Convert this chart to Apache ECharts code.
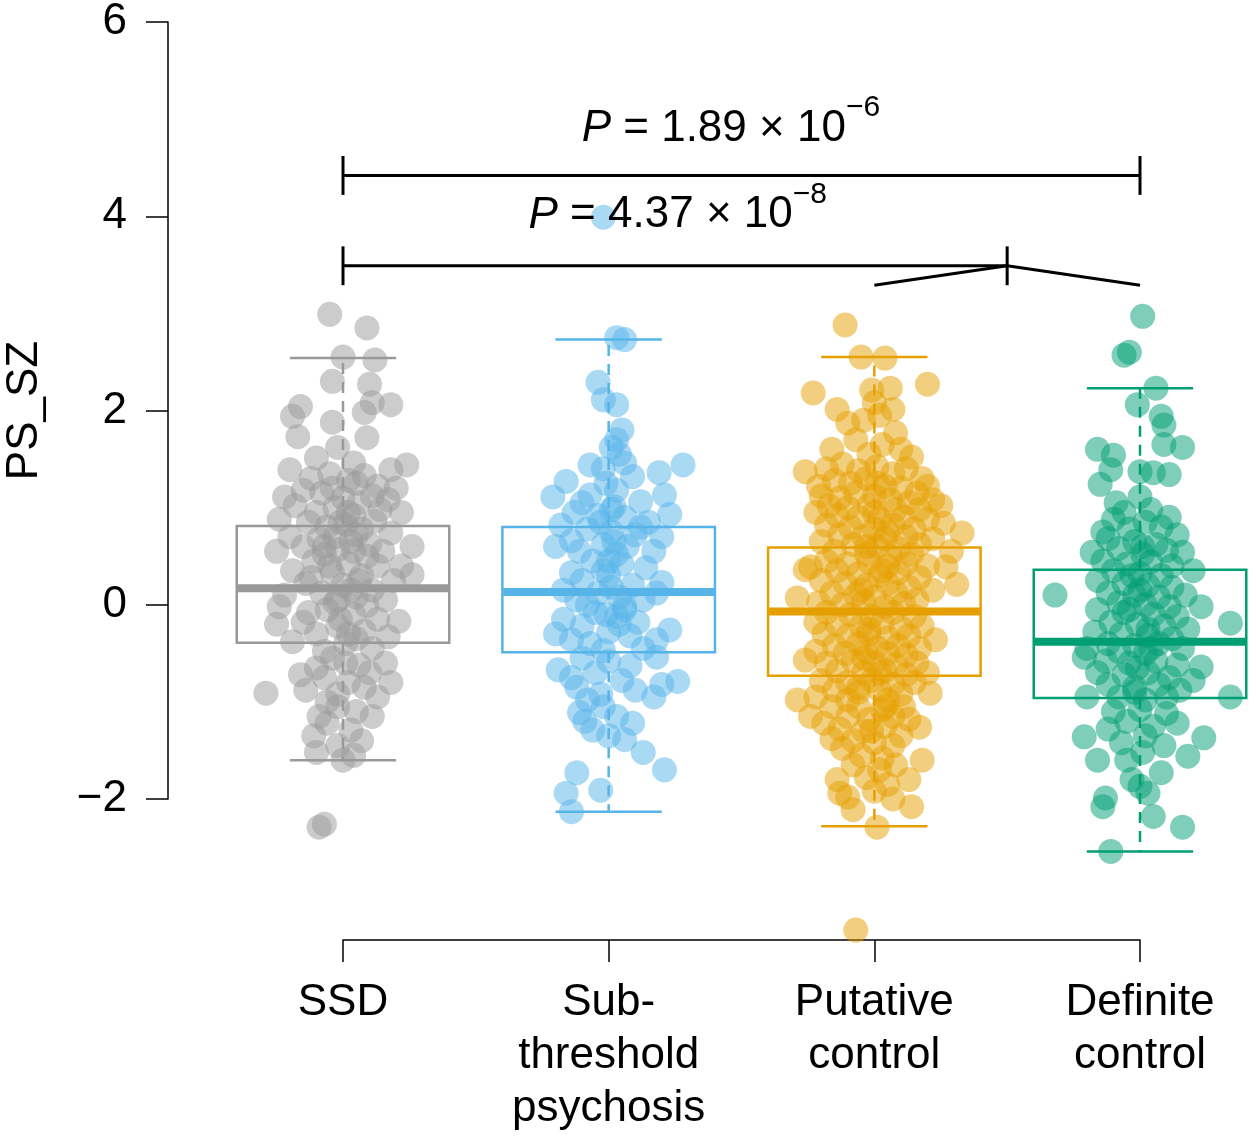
<!DOCTYPE html>
<html><head><meta charset="utf-8">
<script src="https://cdn.jsdelivr.net/npm/echarts@6/dist/echarts.min.js"></script>
<style>html,body{margin:0;padding:0;background:#fff}#c{width:1256px;height:1142px}</style>
</head><body><div id="c"></div>
<script>
// ---------- data ----------
const categories = ['SSD', 'Sub-\nthreshold\npsychosis', 'Putative\ncontrol', 'Definite\ncontrol'];
const yTicks = [-2, 0, 2, 4, 6];
const yName = 'PS_SZ';
// box stats: [lower whisker, Q1, median, Q3, upper whisker]
const boxSSD = [-1.60, -0.39, 0.17, 0.81, 2.54];
const boxSub = [-2.13, -0.49, 0.13, 0.80, 2.73];
const boxPut = [-2.28, -0.73, -0.07, 0.59, 2.55];
const boxDef = [-2.54, -0.96, -0.38, 0.36, 2.23];
// points: [horizontal jitter (category units), PS_SZ]
const ptsSSD = [[-0.05,2.99],[0.09,2.85],[0,2.55],[0.12,2.52],[-0.04,2.30],[0.10,2.27],[-0.16,2.04],[-0.19,1.94],[0.18,2.06],[0.11,2.08],[0.08,1.98],[-0.04,1.88],[-0.17,1.73],[0.09,1.72],[-0.02,1.62],[-0.10,1.51],[-0.20,1.39],[0.24,1.44],[0.18,1.39],[0.04,1.46],
[-0.22,1.11],[0.17,1.08],[-0.12,1.30],[-0.05,1.35],[0.02,1.28],[0.08,1.33],[0.13,1.22],[-0.15,1.18],[-0.08,1.15],[0.00,1.10],[0.06,1.05],[0.11,1.12],[0.20,1.20],[-0.18,1.02],[-0.03,1.00],[0.14,0.98],[-0.10,0.95],[0.04,0.92],[0.22,0.95],[-0.24,0.88],
[-0.13,0.85],[-0.06,0.80],[0.01,0.83],[0.07,0.78],[0.12,0.86],[0.18,0.74],[-0.20,0.70],[-0.09,0.68],[0.03,0.65],[0.10,0.62],[-0.15,0.60],[-0.02,0.57],[0.05,0.72],[0.15,0.55],[-0.25,0.55],[0.26,0.60],[-0.07,0.52],[0.09,0.50],
[0.26,0.31],[-0.11,0.45],[0.02,0.42],[0.13,0.40],[-0.19,0.35],[-0.04,0.33],[0.07,0.30],[0.19,0.25],[-0.14,0.22],[0.00,0.20],[0.11,0.15],[-0.08,0.12],[0.05,0.08],[-0.22,0.10],[0.16,0.05],[-0.03,0.02],[0.09,-0.01],[-0.24,-0.02],[-0.12,0.28],[0.22,0.40],
[-0.25,-0.20],[0.21,-0.17],[-0.06,-0.05],[0.04,-0.10],[0.13,-0.15],[-0.15,-0.18],[-0.02,-0.22],[0.08,-0.27],[-0.10,-0.30],[0.17,-0.33],[-0.19,-0.38],[0.01,-0.40],[0.11,-0.45],[-0.07,-0.48],[0.05,-0.35],[-0.13,-0.08],
[0.16,-0.60],[-0.14,-0.88],[-0.29,-0.91],[0.13,-0.95],[-0.04,-0.55],[0.06,-0.62],[-0.10,-0.65],[0.10,-0.70],[-0.07,-0.75],[0.02,-0.80],[-0.16,-0.72],[0.08,-0.85],[-0.02,-0.92],[0.18,-0.80],
[0.11,-1.15],[-0.09,-1.15],[-0.02,-1.05],[0.05,-1.10],[-0.06,-1.22],[0.03,-1.29],[-0.11,-1.35],[0.07,-1.40],[-0.10,-1.52],[-0.02,-1.45],[0.00,-1.60],[0.04,-1.55],[-0.09,-2.29],[-0.07,-2.26],
[-0.03,0.70],[0.02,0.95],[-0.05,0.40],[0.03,0.15],[-0.01,-0.15],[0.01,-0.60],[-0.04,1.20],[0.04,0.55],[-0.02,0.05],[0.02,-0.30],[-0.06,-1.00],[0.05,1.25],[-0.01,0.85],[0.06,0.25],[-0.07,0.60]];
const ptsSub = [[0.06,2.73],[0.03,2.75],[-0.04,2.29],[-0.02,2.11],[0.03,2.06],[0.05,1.80],[0.03,1.70],[0.01,1.62],[-0.07,1.44],[0.06,1.46],[0.28,1.44],[0.19,1.36],[0.09,1.32],[-0.16,1.27],[-0.21,1.11],[-0.07,1.13],[0.21,1.13],[0.12,1.06],[0.23,0.93],[0.02,1.01],[-0.02,3.99],[0.04,1.55],[-0.01,1.25],[0.03,1.18],[-0.10,1.05],
[-0.13,0.95],[-0.04,0.92],[0.06,0.90],[0.15,0.85],[-0.18,0.82],[-0.08,0.78],[0.01,0.75],[0.10,0.72],[0.20,0.70],[-0.14,0.66],[-0.02,0.62],[0.07,0.60],[0.17,0.55],[-0.11,0.55],[0.03,0.52],[-0.20,0.60],[0.12,0.80],
[-0.14,0.33],[0.20,0.23],[-0.06,0.45],[0.05,0.42],[0.14,0.38],[-0.10,0.25],[0.00,0.30],[0.09,0.20],[-0.17,0.15],[-0.04,0.12],[0.04,0.08],[0.13,0.05],[-0.08,0.00],[0.01,0.18],[0.18,0.12],[-0.12,0.05],[0.06,-0.02],
[0.23,-0.26],[0.18,-0.36],[-0.17,-0.15],[-0.14,-0.36],[-0.05,-0.08],[0.03,-0.12],[0.11,-0.18],[-0.10,-0.22],[0.00,-0.28],[0.08,-0.32],[-0.07,-0.40],[0.13,-0.45],[-0.02,-0.47],[-0.20,-0.30],[0.06,-0.05],
[0.18,-0.54],[-0.19,-0.67],[-0.14,-0.75],[0.26,-0.79],[0.20,-0.82],[0.17,-0.95],[-0.10,-0.55],[0.00,-0.58],[0.08,-0.63],[-0.05,-0.70],[0.05,-0.78],[-0.12,-0.85],[0.10,-0.88],[-0.03,-0.92],[-0.08,-0.98],
[-0.11,-1.11],[-0.06,-1.29],[0.09,-1.22],[0.06,-1.39],[0.13,-1.52],[0.21,-1.70],[-0.12,-1.73],[-0.16,-1.94],[-0.14,-2.13],[-0.03,-1.91],[-0.02,-1.05],[0.03,-1.15],[-0.09,-1.20],[0.00,-1.35],
[-0.02,0.35],[0.02,0.65],[-0.01,-0.10],[0.01,0.98],[0.00,0.45],[-0.03,0.85],[0.04,-0.20],[-0.02,1.40]];
const ptsPut = [[-0.11,2.88],[-0.05,2.55],[0.04,2.54],[-0.23,2.18],[0.20,2.27],[-0.01,2.21],[0.06,2.23],[-0.14,2.01],[-0.10,1.87],[0.07,2.01],[0.00,2.08],[0.08,1.77],[-0.16,1.60],[0.14,1.52],[-0.26,1.37],[-0.21,1.22],[0.22,1.08],[0.33,0.74],[-0.24,0.39],[-0.04,1.90],[0.02,1.95],[-0.07,1.70],[0.03,1.65],[0.10,1.60],[-0.02,1.55],
[-0.18,1.40],[-0.12,1.45],[-0.06,1.38],[0.01,1.42],[0.07,1.35],[0.12,1.40],[0.18,1.30],[-0.15,1.28],[-0.09,1.25],[-0.03,1.30],[0.04,1.22],[0.10,1.20],[0.16,1.15],[0.20,1.22],[-0.20,1.12],[-0.13,1.10],[-0.07,1.15],[0.00,1.12],[0.06,1.08],[0.13,1.05],[-0.17,1.02],[-0.10,1.00],[-0.02,1.02],[0.08,0.98],[0.17,0.98],[0.25,1.02],
[-0.22,0.95],[-0.14,0.92],[-0.06,0.90],[0.02,0.88],[0.11,0.90],[0.20,0.88],[0.26,0.84],[-0.18,0.82],[-0.09,0.80],[0.00,0.78],[0.07,0.82],[0.15,0.78],[-0.13,0.72],[-0.04,0.70],[0.04,0.68],[0.12,0.70],[0.22,0.68],[-0.20,0.65],[-0.08,0.62],[0.01,0.60],[0.09,0.58],[0.17,0.62],[-0.15,0.55],[-0.03,0.52],[0.06,0.50],[0.14,0.52],[0.29,0.55],
[-0.26,0.36],[0.31,0.21],[0.27,0.39],[-0.29,0.07],[-0.18,0.45],[-0.10,0.42],[-0.02,0.44],[0.05,0.40],[0.12,0.42],[0.20,0.40],[-0.14,0.35],[-0.06,0.32],[0.02,0.30],[0.09,0.33],[0.17,0.28],[-0.20,0.25],[-0.11,0.22],[-0.03,0.20],[0.05,0.22],[0.13,0.18],[0.22,0.15],[-0.16,0.12],[-0.07,0.10],[0.00,0.08],[0.08,0.12],[0.16,0.05],[-0.21,0.02],[-0.12,0.00],[-0.04,0.03],[0.04,-0.02],[0.11,0.01],
[-0.18,-0.08],[-0.09,-0.10],[-0.01,-0.12],[0.07,-0.08],[0.15,-0.12],[0.23,-0.36],[-0.22,-0.18],[-0.14,-0.20],[-0.05,-0.22],[0.03,-0.18],[0.10,-0.24],[0.18,-0.22],[-0.19,-0.30],[-0.10,-0.32],[-0.02,-0.30],[0.05,-0.34],[0.13,-0.32],[-0.15,-0.42],[-0.06,-0.40],[0.01,-0.44],[0.09,-0.42],[0.17,-0.45],[-0.22,-0.48],[-0.11,-0.50],[-0.03,-0.48],[0.05,-0.50],[0.12,-0.52],
[-0.26,-0.57],[-0.29,-0.98],[0.21,-0.91],[-0.18,-0.60],[-0.08,-0.58],[0.00,-0.60],[0.08,-0.62],[0.16,-0.60],[-0.14,-0.68],[-0.04,-0.70],[0.04,-0.68],[0.12,-0.72],[0.20,-0.70],[-0.20,-0.78],[-0.10,-0.80],[-0.01,-0.78],[0.07,-0.82],[0.15,-0.80],[-0.15,-0.88],[-0.06,-0.90],[0.02,-0.88],[0.10,-0.92],[-0.22,-0.95],[-0.10,-0.98],[0.05,-0.98],
[-0.24,-1.15],[0.17,-1.26],[-0.16,-1.05],[-0.06,-1.05],[0.03,-1.08],[0.11,-1.05],[-0.19,-1.22],[-0.10,-1.15],[-0.02,-1.18],[0.07,-1.15],[0.13,-1.18],[-0.13,-1.28],[-0.04,-1.30],[0.04,-1.25],[0.10,-1.35],[-0.16,-1.38],[-0.08,-1.40],[0.00,-1.42],[0.07,-1.45],[-0.12,-1.48],
[0.18,-1.60],[-0.14,-1.80],[-0.13,-1.94],[0.14,-2.08],[0.13,-1.80],[-0.08,-2.11],[0.01,-2.29],[-0.07,-3.35],[0.07,-2.00],[-0.05,-1.55],[0.03,-1.58],[-0.08,-1.65],[0.02,-1.70],[0.08,-1.65],[-0.03,-1.78],[0.05,-1.85],[-0.10,-1.98],[0.00,-1.92],
[-0.03,0.60],[0.03,0.35],[-0.02,-0.25],[0.02,-0.70],[0.00,0.95],[-0.05,0.15],[0.04,-1.05],[-0.01,-1.30],[0.01,1.25],[-0.04,-0.55],[0.05,0.75],[-0.06,-0.85]];
const ptsDef = [[0.01,2.97],[-0.06,2.57],[-0.04,2.60],[0.06,2.23],[-0.01,2.06],[0.08,1.94],[0.09,1.85],[0.09,1.65],[0.16,1.62],[-0.16,1.60],[-0.10,1.54],[-0.11,1.39],[0.11,1.34],[0.00,1.37],[-0.15,1.24],[0.05,1.36],[0.00,1.11],[-0.09,1.05],[0.11,0.90],[-0.14,0.75],[0.16,0.54],[-0.18,0.54],
[-0.06,0.95],[0.04,0.98],[-0.10,0.88],[0.02,0.85],[0.08,0.80],[-0.04,0.78],[0.14,0.72],[-0.12,0.68],[-0.02,0.65],[0.06,0.62],[-0.08,0.58],[0.10,0.56],[0.01,0.52],
[-0.32,0.10],[0.23,-0.02],[-0.14,0.45],[-0.05,0.42],[0.04,0.44],[0.12,0.40],[0.20,0.35],[-0.10,0.35],[0.00,0.32],[0.08,0.30],[-0.16,0.25],[-0.06,0.22],[0.03,0.20],[0.12,0.18],[-0.12,0.12],[-0.02,0.10],[0.07,0.08],[0.17,0.10],[-0.08,0.02],[0.02,0.00],[0.11,-0.02],
[0.34,-0.19],[-0.16,-0.05],[-0.06,-0.08],[0.05,-0.10],[0.14,-0.12],[-0.11,-0.18],[-0.01,-0.20],[0.09,-0.22],[0.18,-0.25],[-0.17,-0.28],[-0.07,-0.30],[0.03,-0.32],[0.12,-0.35],[-0.12,-0.40],[-0.02,-0.42],[0.07,-0.40],[0.16,-0.45],[-0.20,-0.45],[-0.08,-0.48],[0.02,-0.50],
[-0.21,-0.54],[0.23,-0.64],[0.34,-0.95],[-0.20,-0.95],[-0.13,-0.58],[-0.04,-0.60],[0.06,-0.58],[0.14,-0.62],[-0.16,-0.70],[-0.06,-0.72],[0.03,-0.70],[0.11,-0.75],[0.20,-0.78],[-0.12,-0.82],[-0.02,-0.85],[0.07,-0.82],[0.15,-0.88],[-0.08,-0.95],[0.02,-0.98],[0.10,-0.95],
[-0.21,-1.36],[-0.16,-1.60],[0.24,-1.37],[0.18,-1.56],[-0.13,-1.99],[-0.14,-2.08],[0.05,-2.18],[0.16,-2.29],[-0.11,-2.54],[0.00,-1.87],[0.03,-1.94],[-0.03,-1.80],[0.01,-1.52],[-0.05,-1.60],[0.08,-1.73],[-0.10,-1.10],[0.00,-1.08],[0.10,-1.12],[-0.05,-1.20],[0.05,-1.25],[-0.12,-1.28],[0.14,-1.22],[0.02,-1.35],[-0.07,-1.42],[0.09,-1.45],
[-0.03,0.30],[0.03,-0.25],[-0.01,-0.65],[0.01,0.60],[-0.04,-0.05],[0.04,-0.45],[0.00,0.15],[-0.02,-0.90]];
// significance brackets (category positions, PS_SZ level)
const bracketTopFromTo = [1, 4];
const bracketTopLevel = 4.42;
const bracketTopText = ['1.89', '−6'];
const bracketLowFromTo = [1, 3.5];
const bracketLowBranches = [3, 4];
const bracketLowLevel = 3.49;
const bracketLowBranchLevel = 3.29;
const bracketLowText = ['4.37', '−8'];

// ---------- chart ----------
const FONT = '"Liberation Sans", Arial, Helvetica, sans-serif';
const colors = ['#999999', '#56B4E9', '#E69F00', '#009E73'];
const boxes = [boxSSD, boxSub, boxPut, boxDef];
const pts = [ptsSSD, ptsSub, ptsPut, ptsDef];

const chart = echarts.init(document.getElementById('c'), null, {renderer: 'canvas'});

function renderBox(params, api) {
  const x = api.value(0);
  const ci = api.value(6);
  const c = colors[ci];
  const py = v => api.coord([x, v])[1];
  const cx = api.coord([x, 0])[0];
  const hw = api.size([0.4, 0])[0];
  const lw = py(api.value(1)), q1 = py(api.value(2)), md = py(api.value(3)), q3 = py(api.value(4)), uw = py(api.value(5));
  const solid = {stroke: c, lineWidth: 2.5, fill: null};
  const dashed = {stroke: c, lineWidth: 2.5, lineDash: [11, 8], fill: null};
  return {type: 'group', children: [
    {type: 'line', shape: {x1: cx, y1: q3, x2: cx, y2: uw}, style: dashed},
    {type: 'line', shape: {x1: cx, y1: q1, x2: cx, y2: lw}, style: dashed},
    {type: 'line', shape: {x1: cx - hw / 2, y1: uw, x2: cx + hw / 2, y2: uw}, style: solid},
    {type: 'line', shape: {x1: cx - hw / 2, y1: lw, x2: cx + hw / 2, y2: lw}, style: solid},
    {type: 'rect', shape: {x: cx - hw, y: q3, width: 2 * hw, height: q1 - q3}, style: {stroke: c, lineWidth: 2.5, fill: 'rgba(0,0,0,0)'}},
    {type: 'line', shape: {x1: cx - hw, y1: md, x2: cx + hw, y2: md}, style: {stroke: c, lineWidth: 8}}
  ]};
}

function pText(x, y, parts) {
  return {
    type: 'text', x: x, y: y,
    style: {
      text: '{i|P} = ' + parts[0] + ' × 10{s|' + parts[1] + '}',
      fill: '#000', fontSize: 44, fontFamily: FONT, lineHeight: 72,
      align: 'center', verticalAlign: 'middle',
      rich: {
        i: {fontStyle: 'italic', fontSize: 44, fontFamily: FONT, lineHeight: 72},
        s: {fontSize: 30, fontFamily: FONT, lineHeight: 30, verticalAlign: 'top'}
      }
    }
  };
}

function renderBrackets(params, api) {
  const c = (x, y) => api.coord([x, y]);
  const st = {stroke: '#000', lineWidth: 3};
  const tk = 0.2;
  const L = (a, b) => ({type: 'line', shape: {x1: a[0], y1: a[1], x2: b[0], y2: b[1]}, style: st});
  const t0 = bracketTopFromTo[0], t1 = bracketTopFromTo[1], ty = bracketTopLevel;
  const l0 = bracketLowFromTo[0], l1 = bracketLowFromTo[1], ly = bracketLowLevel, by = bracketLowBranchLevel;
  const topMid = c(2.46, 4.90);
  const lowMid = c(2.26, 4.01);
  return {type: 'group', children: [
    L(c(t0, ty), c(t1, ty)),
    L(c(t0, ty - tk), c(t0, ty + tk)),
    L(c(t1, ty - tk), c(t1, ty + tk)),
    L(c(l0, ly), c(l1, ly)),
    L(c(l0, ly - tk), c(l0, ly + tk)),
    L(c(l1, ly - tk), c(l1, ly + tk)),
    L(c(l1, ly), c(bracketLowBranches[0], by)),
    L(c(l1, ly), c(bracketLowBranches[1], by)),
    pText(topMid[0], topMid[1], bracketTopText),
    pText(lowMid[0], lowMid[1], bracketLowText)
  ]};
}

const series = [
  {
    type: 'custom', name: 'boxes', renderItem: renderBox, z: 2, clip: false,
    encode: {x: 0, y: [1, 2, 3, 4, 5]},
    data: boxes.map((b, i) => [i + 1, b[0], b[1], b[2], b[3], b[4], i])
  }
];
pts.forEach((p, i) => {
  series.push({
    type: 'scatter', name: categories[i], z: 3, clip: false,
    symbol: 'circle', symbolSize: 25,
    itemStyle: {color: colors[i], opacity: 0.5, borderWidth: 0},
    emphasis: {disabled: true},
    data: p.map(d => [i + 1 + d[0], d[1]])
  });
});
series.push({
  type: 'custom', name: 'brackets', renderItem: renderBrackets, z: 4, clip: false,
  encode: {x: 0, y: 1}, data: [[1, 4.42]]
});

chart.setOption({
  animation: false,
  backgroundColor: '#ffffff',
  grid: {left: 343, right: 116, top: 22, bottom: 343, containLabel: false, outerBoundsMode: 'none'},
  xAxis: {
    type: 'value', min: 1, max: 4, interval: 1, offset: 141,
    axisLine: {show: true, onZero: false, lineStyle: {color: '#000', width: 1.5}},
    axisTick: {show: true, length: 22, lineStyle: {color: '#000', width: 1.5}},
    axisLabel: {
      formatter: v => categories[Math.round(v) - 1] || '',
      fontSize: 44, lineHeight: 53, color: '#000', fontFamily: FONT, margin: 36
    },
    splitLine: {show: false}
  },
  yAxis: {
    type: 'value', min: yTicks[0], max: yTicks[yTicks.length - 1], interval: 2, offset: 175,
    name: yName, nameLocation: 'middle', nameGap: 121,
    nameTextStyle: {fontSize: 44, color: '#000', fontFamily: FONT},
    axisLine: {show: true, onZero: false, lineStyle: {color: '#000', width: 1.5}},
    axisTick: {show: true, length: 22, lineStyle: {color: '#000', width: 1.5}},
    axisLabel: {
      formatter: v => (v < 0 ? '−' + Math.abs(v) : String(v)),
      fontSize: 44, color: '#000', fontFamily: FONT, margin: 41
    },
    splitLine: {show: false}
  },
  series: series
});
</script>
</body></html>
